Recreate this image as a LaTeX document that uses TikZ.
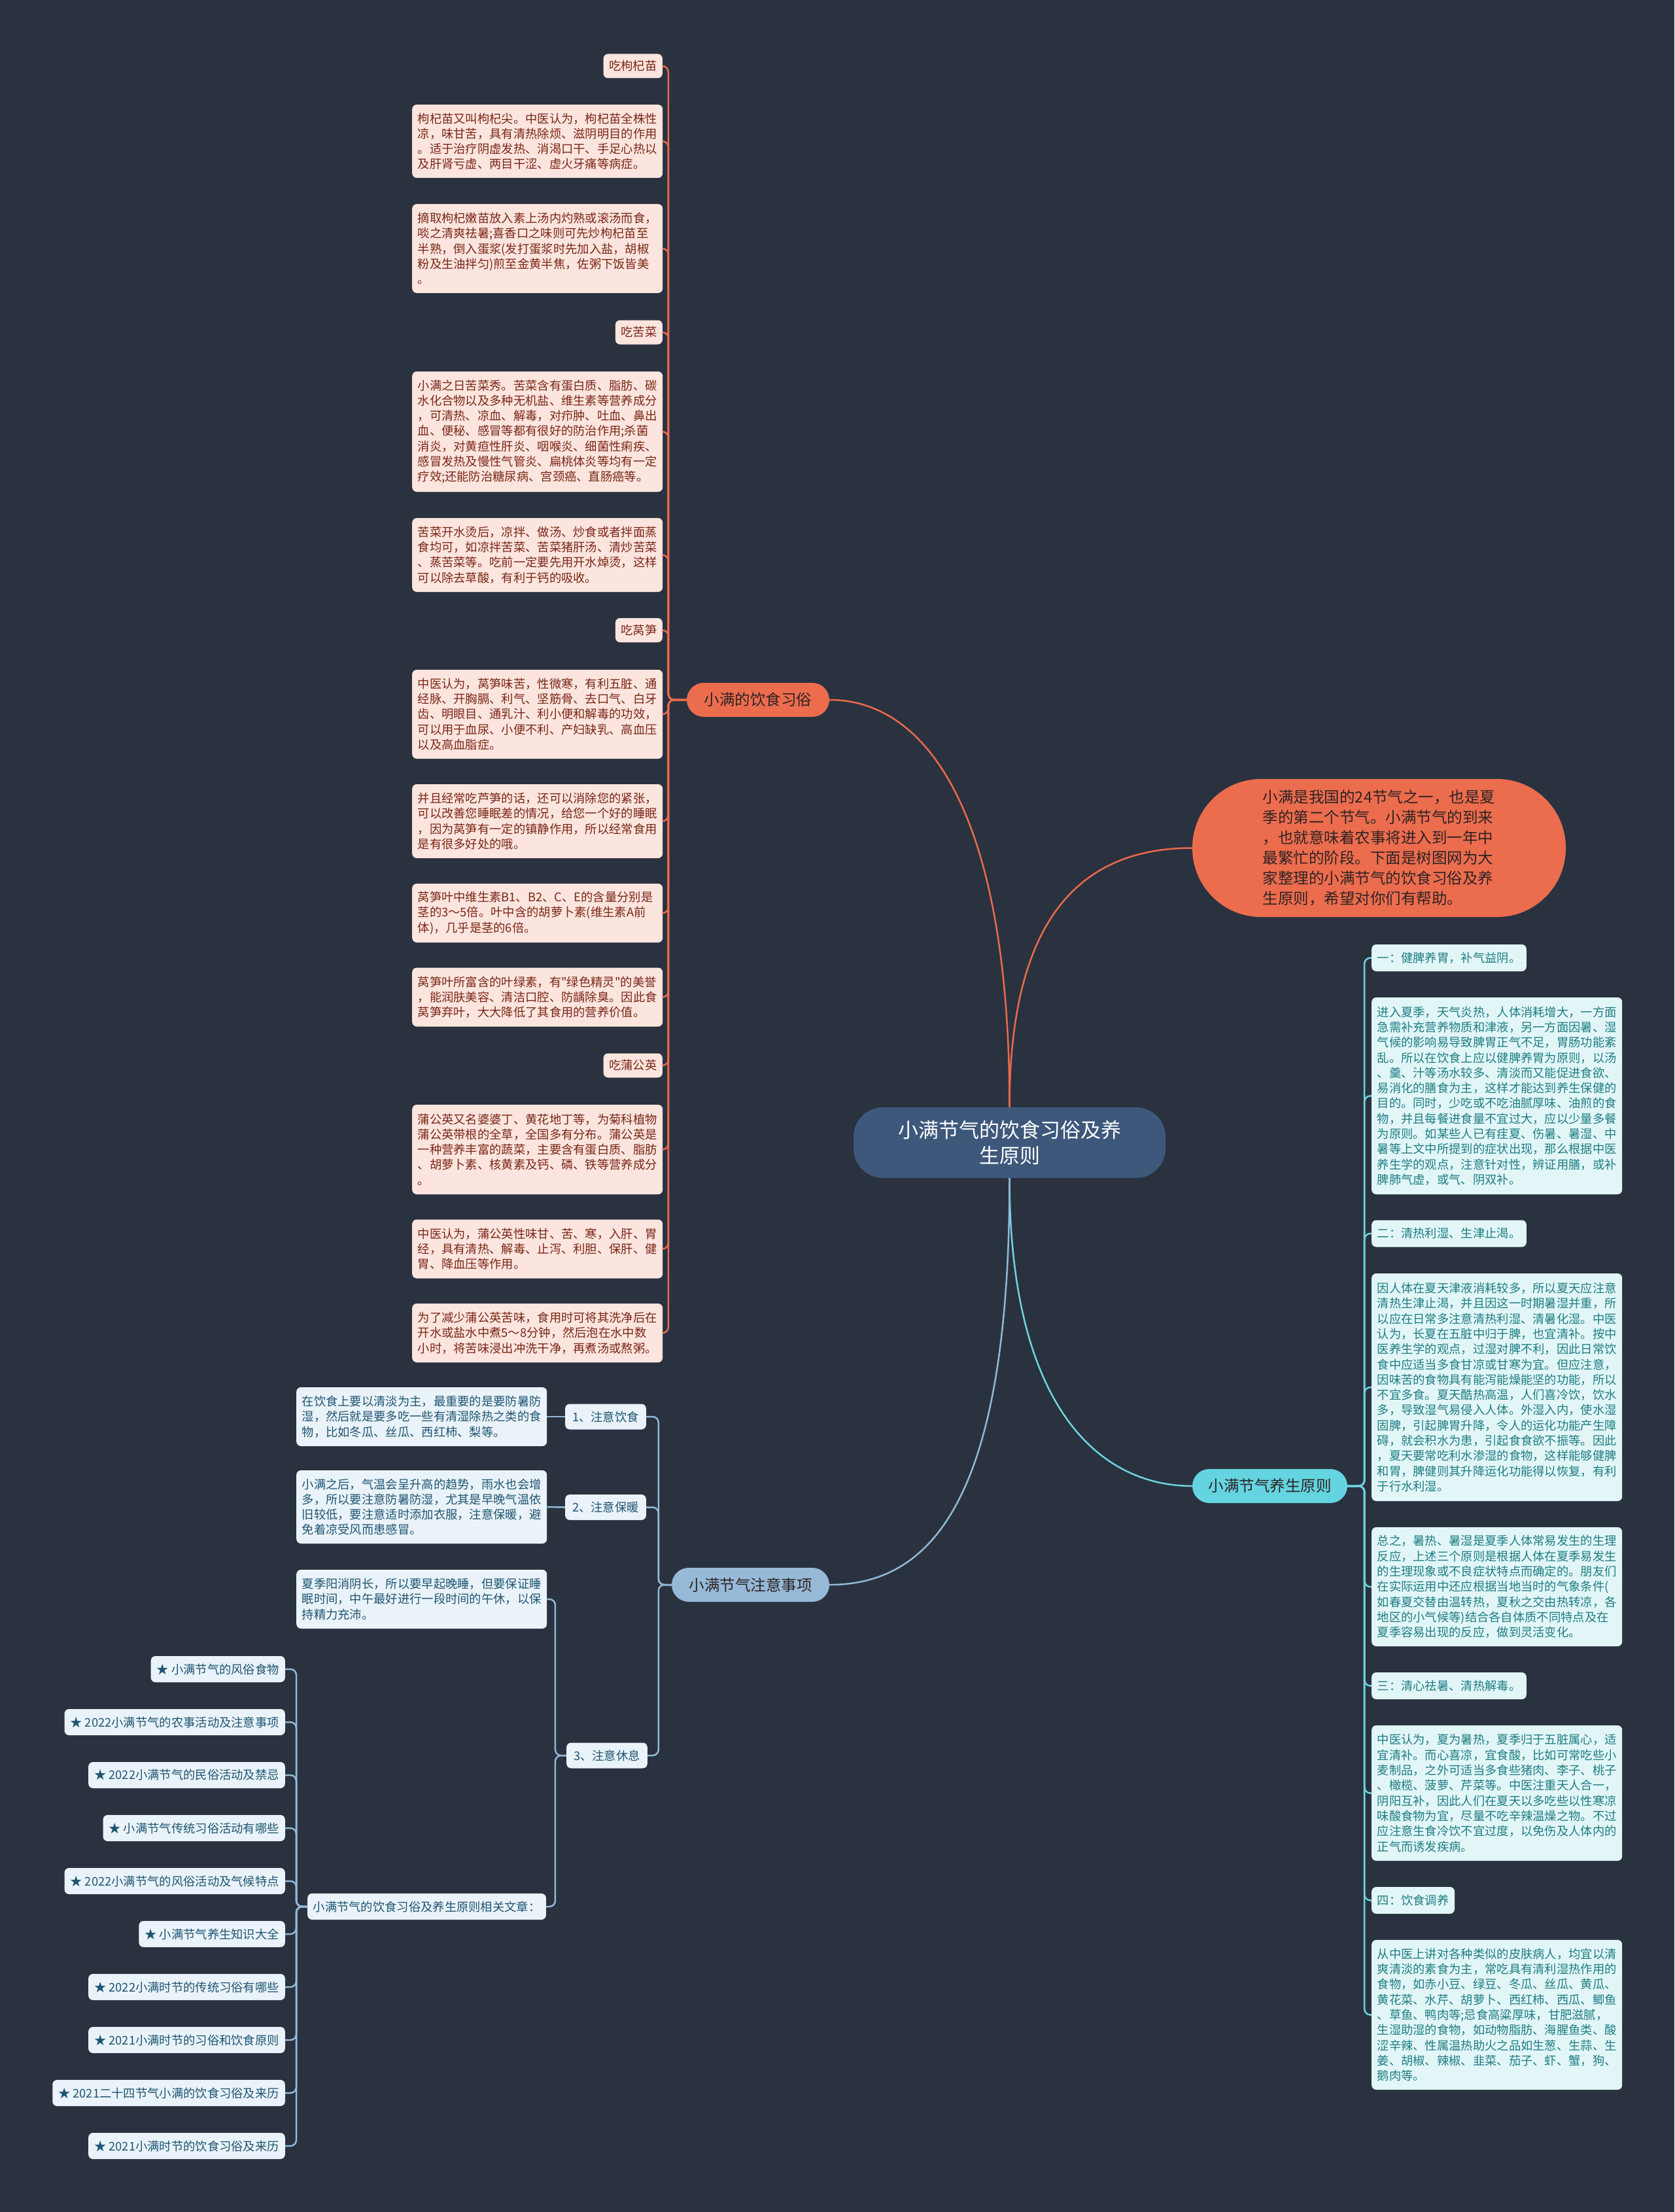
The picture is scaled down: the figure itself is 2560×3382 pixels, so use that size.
\documentclass[tikz,border=0pt]{standalone}
\usepackage{fontspec}
\newfontfamily\cjk{Noto Sans CJK SC}
\definecolor{bg}{RGB}{42,50,64}
\definecolor{opink}{RGB}{252,229,222}
\definecolor{otext}{RGB}{122,38,22}
\definecolor{oline}{RGB}{234,106,76}
\definecolor{ofill}{RGB}{236,108,78}
\definecolor{cfill}{RGB}{226,246,248}
\definecolor{ctext}{RGB}{30,125,130}
\definecolor{cline}{RGB}{110,212,222}
\definecolor{cbr}{RGB}{100,212,224}
\definecolor{bfill}{RGB}{234,243,249}
\definecolor{btext}{RGB}{30,85,115}
\definecolor{bline}{RGB}{145,185,215}
\definecolor{bbr}{RGB}{150,185,215}
\definecolor{cnode}{RGB}{62,88,124}
\definecolor{darktxt}{RGB}{45,35,35}
\begin{document}
\begin{tikzpicture}[x=1pt,y=-1pt,
  txt/.style={font=\cjk\fontsize{18.3pt}{23.3pt}\selectfont},
  base/.style={rounded corners=7pt, inner xsep=8.5pt, inner ysep=0pt, txt},
  obig/.style={base, fill=opink, text=otext, text width=366pt, align=left, anchor=west, minimum height=#1},
  olab/.style={base, fill=opink, text=otext, anchor=east, minimum height=37pt},
  cbig/.style={base, fill=cfill, text=ctext, text width=366pt, align=left, anchor=west, minimum height=#1},
  clab/.style={base, fill=cfill, text=ctext, anchor=west, minimum height=41pt},
  bbig/.style={base, fill=bfill, text=btext, text width=366pt, align=left, anchor=west, minimum height=#1},
  blab/.style={base, fill=bfill, text=btext, anchor=east, minimum height=39pt, inner xsep=11pt},
  slab/.style={base, fill=bfill, text=btext, anchor=east, minimum height=40pt, inner xsep=9pt},
  branch/.style={rounded corners=26pt, minimum height=52pt, inner xsep=24pt, inner ysep=0pt,
     font=\cjk\fontsize{23.5pt}{30pt}\selectfont},
  ocon/.style={draw=oline, line width=2.5pt, rounded corners=9pt},
  ccon/.style={draw=cline, line width=2.5pt, rounded corners=9pt},
  bcon/.style={draw=bline, line width=2.5pt, rounded corners=9pt},
]
\useasboundingbox (0,0) rectangle (2560,3382);
\fill[bg] (0,0) rectangle (2560,3382);

% ---------- centre and intro ----------
\node[fill=cnode, text=white, rounded corners=45pt, minimum width=477pt, minimum height=108pt,
  align=center, font=\cjk\fontsize{31pt}{39pt}\selectfont] (center) at (1543.5,1747)
  {小满节气的饮食习俗及养\\生原则};
\node[fill=ofill, text=darktxt, rounded corners=105pt, minimum width=571pt, minimum height=211pt,
  align=left, font=\cjk\fontsize{23.5pt}{31pt}\selectfont] (intro) at (2108.5,1296.5)
  {小满是我国的24节气之一，也是夏\\季的第二个节气。小满节气的到来\\，也就意味着农事将进入到一年中\\最繁忙的阶段。下面是树图网为大\\家整理的小满节气的饮食习俗及养\\生原则，希望对你们有帮助。};

% ---------- branches ----------
\node[branch, fill=ofill, text=darktxt, minimum width=218pt] (ob) at (1159,1070) {小满的饮食习俗};
\node[branch, fill=cbr, text=darktxt, minimum width=237pt] (cb) at (1941.5,2272) {小满节气养生原则};
\node[branch, fill=bbr, text=darktxt, minimum width=241pt] (bb) at (1147.5,2423) {小满节气注意事项};

% ---------- orange column ----------
\node[olab] (o1) at (1013,101) {吃枸杞苗};
\node[obig=112pt] (ob1) at (630,216) {枸杞苗又叫枸杞尖。中医认为，枸杞苗全株性\\凉，味甘苦，具有清热除烦、滋阴明目的作用\\。适于治疗阴虚发热、消渴口干、手足心热以\\及肝肾亏虚、两目干涩、虚火牙痛等病症。};
\node[obig=136pt] (ob2) at (630,380) {摘取枸杞嫩苗放入素上汤内灼熟或滚汤而食，\\啖之清爽祛暑;喜香口之味则可先炒枸杞苗至\\半熟，倒入蛋浆(发打蛋浆时先加入盐，胡椒\\粉及生油拌匀)煎至金黄半焦，佐粥下饭皆美\\。};
\node[olab] (o2) at (1013,508) {吃苦菜};
\node[obig=184pt] (ob3) at (630,660) {小满之日苦菜秀。苦菜含有蛋白质、脂肪、碳\\水化合物以及多种无机盐、维生素等营养成分\\，可清热、凉血、解毒，对疖肿、吐血、鼻出\\血、便秘、感冒等都有很好的防治作用;杀菌\\消炎，对黄疸性肝炎、咽喉炎、细菌性痢疾、\\感冒发热及慢性气管炎、扁桃体炎等均有一定\\疗效;还能防治糖尿病、宫颈癌、直肠癌等。};
\node[obig=113pt] (ob4) at (630,848.5) {苦菜开水烫后，凉拌、做汤、炒食或者拌面蒸\\食均可，如凉拌苦菜、苦菜猪肝汤、清炒苦菜\\、蒸苦菜等。吃前一定要先用开水焯烫，这样\\可以除去草酸，有利于钙的吸收。};
\node[olab] (o3) at (1013,963.5) {吃莴笋};
\node[obig=136pt] (ob5) at (630,1092) {中医认为，莴笋味苦，性微寒，有利五脏、通\\经脉、开胸膈、利气、坚筋骨、去口气、白牙\\齿、明眼目、通乳汁、利小便和解毒的功效，\\可以用于血尿、小便不利、产妇缺乳、高血压\\以及高血脂症。};
\node[obig=113pt] (ob6) at (630,1255.5) {并且经常吃芦笋的话，还可以消除您的紧张，\\可以改善您睡眠差的情况，给您一个好的睡眠\\，因为莴笋有一定的镇静作用，所以经常食用\\是有很多好处的哦。};
\node[obig=90pt] (ob7) at (630,1396) {莴笋叶中维生素B1、B2、C、E的含量分别是\\茎的3～5倍。叶中含的胡萝卜素(维生素A前\\体)，几乎是茎的6倍。};
\node[obig=90pt] (ob8) at (630,1524.5) {莴笋叶所富含的叶绿素，有"绿色精灵"的美誉\\，能润肤美容、清洁口腔、防龋除臭。因此食\\莴笋弃叶，大大降低了其食用的营养价值。};
\node[olab] (o4) at (1013,1629) {吃蒲公英};
\node[obig=137pt] (ob9) at (630,1757.5) {蒲公英又名婆婆丁、黄花地丁等，为菊科植物\\蒲公英带根的全草，全国多有分布。蒲公英是\\一种营养丰富的蔬菜，主要含有蛋白质、脂肪\\、胡萝卜素、核黄素及钙、磷、铁等营养成分\\。};
\node[obig=90pt] (ob10) at (630,1909.5) {中医认为，蒲公英性味甘、苦、寒，入肝、胃\\经，具有清热、解毒、止泻、利胆、保肝、健\\胃、降血压等作用。};
\node[obig=90pt] (ob11) at (630,2038) {为了减少蒲公英苦味，食用时可将其洗净后在\\开水或盐水中煮5～8分钟，然后泡在水中数\\小时，将苦味浸出冲洗干净，再煮汤或熬粥。};

\foreach \n in {o1,ob1,ob2,o2,ob3,ob4,o3,ob5,ob6,ob7,ob8,o4,ob9,ob10,ob11}
  \draw[ocon] (ob.west) -- ++(-28,0) |- (\n.east);

% ---------- cyan column ----------
\node[clab] (c1) at (2097,1464.5) {一：健脾养胃，补气益阴。};
\node[cbig=301pt] (cb1) at (2097,1675.5) {进入夏季，天气炎热，人体消耗增大，一方面\\急需补充营养物质和津液，另一方面因暑、湿\\气候的影响易导致脾胃正气不足，胃肠功能紊\\乱。所以在饮食上应以健脾养胃为原则，以汤\\、羹、汁等汤水较多、清淡而又能促进食欲、\\易消化的膳食为主，这样才能达到养生保健的\\目的。同时，少吃或不吃油腻厚味、油煎的食\\物，并且每餐进食量不宜过大，应以少量多餐\\为原则。如某些人已有疰夏、伤暑、暑湿、中\\暑等上文中所提到的症状出现，那么根据中医\\养生学的观点，注意针对性，辨证用膳，或补\\脾肺气虚，或气、阴双补。};
\node[clab] (c2) at (2097,1886) {二：清热利湿、生津止渴。};
\node[cbig=348pt] (cb2) at (2097,2121) {因人体在夏天津液消耗较多，所以夏天应注意\\清热生津止渴，并且因这一时期暑湿并重，所\\以应在日常多注意清热利湿、清暑化湿。中医\\认为，长夏在五脏中归于脾，也宜清补。按中\\医养生学的观点，过湿对脾不利，因此日常饮\\食中应适当多食甘凉或甘寒为宜。但应注意，\\因味苦的食物具有能泻能燥能坚的功能，所以\\不宜多食。夏天酷热高温，人们喜冷饮，饮水\\多，导致湿气易侵入人体。外湿入内，使水湿\\固脾，引起脾胃升降，令人的运化功能产生障\\碍，就会积水为患，引起食食欲不振等。因此\\，夏天要常吃利水渗湿的食物，这样能够健脾\\和胃，脾健则其升降运化功能得以恢复，有利\\于行水利湿。};
\node[cbig=182pt] (cb3) at (2097,2426) {总之，暑热、暑湿是夏季人体常易发生的生理\\反应，上述三个原则是根据人体在夏季易发生\\的生理现象或不良症状特点而确定的。朋友们\\在实际运用中还应根据当地当时的气象条件(\\如春夏交替由温转热，夏秋之交由热转凉，各\\地区的小气候等)结合各自体质不同特点及在\\夏季容易出现的反应，做到灵活变化。};
\node[clab] (c3) at (2097,2577.5) {三：清心祛暑、清热解毒。};
\node[cbig=207pt] (cb4) at (2097,2741.5) {中医认为，夏为暑热，夏季归于五脏属心，适\\宜清补。而心喜凉，宜食酸，比如可常吃些小\\麦制品，之外可适当多食些猪肉、李子、桃子\\、橄榄、菠萝、芹菜等。中医注重天人合一，\\阴阳互补，因此人们在夏天以多吃些以性寒凉\\味酸食物为宜，尽量不吃辛辣温燥之物。不过\\应注意生食冷饮不宜过度，以免伤及人体内的\\正气而诱发疾病。};
\node[clab] (c4) at (2097,2905.5) {四：饮食调养};
\node[cbig=229pt] (cb5) at (2097,3080.5) {从中医上讲对各种类似的皮肤病人，均宜以清\\爽清淡的素食为主，常吃具有清利湿热作用的\\食物，如赤小豆、绿豆、冬瓜、丝瓜、黄瓜、\\黄花菜、水芹、胡萝卜、西红柿、西瓜、鲫鱼\\、草鱼、鸭肉等;忌食高粱厚味，甘肥滋腻，\\生湿助湿的食物，如动物脂肪、海腥鱼类、酸\\涩辛辣、性属温热助火之品如生葱、生蒜、生\\姜、胡椒、辣椒、韭菜、茄子、虾、蟹，狗、\\鹅肉等。};

\foreach \n in {c1,cb1,c2,cb2,cb3,c3,cb4,c4,cb5}
  \draw[ccon] (cb.east) -- ++(26,0) |- (\n.west);

% ---------- blue column ----------
\node[blab] (b1) at (988,2166) {1、注意饮食};
\node[blab] (b2) at (988,2304.5) {2、注意保暖};
\node[blab] (b3) at (990,2684) {3、注意休息};
\node[bbig=90pt] (bb1) at (453,2166) {在饮食上要以清淡为主，最重要的是要防暑防\\湿，然后就是要多吃一些有清湿除热之类的食\\物，比如冬瓜、丝瓜、西红柿、梨等。};
\node[bbig=112pt] (bb2) at (453,2304) {小满之后，气温会呈升高的趋势，雨水也会增\\多，所以要注意防暑防湿，尤其是早晚气温依\\旧较低，要注意适时添加衣服，注意保暖，避\\免着凉受风而患感冒。};
\node[bbig=90pt] (bb3) at (453,2445) {夏季阳消阴长，所以要早起晚睡，但要保证睡\\眠时间，中午最好进行一段时间的午休，以保\\持精力充沛。};
\node[base, fill=bfill, text=btext, anchor=west, minimum height=40pt] (rel) at (470,2915) {小满节气的饮食习俗及养生原则相关文章：};

\foreach \n/\t [count=\i from 0] in {
  s1/{★ 小满节气的风俗食物},
  s2/{★ 2022小满节气的农事活动及注意事项},
  s3/{★ 2022小满节气的民俗活动及禁忌},
  s4/{★ 小满节气传统习俗活动有哪些},
  s5/{★ 2022小满节气的风俗活动及气候特点},
  s6/{★ 小满节气养生知识大全},
  s7/{★ 2022小满时节的传统习俗有哪些},
  s8/{★ 2021小满时节的习俗和饮食原则},
  s9/{★ 2021二十四节气小满的饮食习俗及来历},
  s10/{★ 2021小满时节的饮食习俗及来历}}
{
  \node[slab] (\n) at (436,2552+81*\i) {\t};
  \draw[bcon] (rel.west) -- ++(-17,0) |- (\n.east);
}

\foreach \n in {b1,b2,b3}
  \draw[bcon] (bb.west) -- ++(-20,0) |- (\n.east);
\draw[bcon] (b1.west) -- (bb1.east);
\draw[bcon] (b2.west) -- (bb2.east);
\draw[bcon] (b3.west) -- ++(-17,0) |- (bb3.east);
\draw[bcon] (b3.west) -- ++(-17,0) |- (rel.east);

% ---------- centre connectors ----------
\draw[oline, line width=2.5pt] (center.north) .. controls (1543.5,1250) and (1420,1070) .. (ob.east);
\draw[oline, line width=2.5pt] (center.north) .. controls (1543.5,1420) and (1640,1296.5) .. (intro.west);
\draw[cline, line width=2.5pt] (center.south) .. controls (1543.5,2150) and (1680,2272) .. (cb.west);
\draw[bline, line width=2.5pt] (center.south) .. controls (1543.5,2300) and (1420,2423) .. (bb.east);
\end{tikzpicture}
\end{document}
